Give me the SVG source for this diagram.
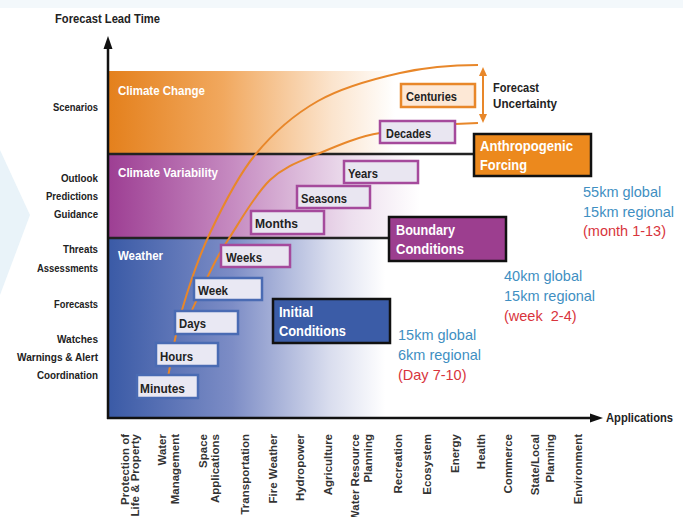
<svg xmlns="http://www.w3.org/2000/svg" width="683" height="517" viewBox="0 0 683 517">
<defs>
<style>
.n{font-family:"Liberation Sans",Arial,sans-serif;font-weight:bold}
.yl{font-size:11.5px;fill:#222;text-anchor:end}
.bl{font-size:13.5px;fill:#fff}
.bx{font-size:13.5px;fill:#222}
.big{font-size:15px;fill:#fff}
.bt{font-family:"Liberation Sans",Arial,sans-serif;font-weight:bold;font-size:11.5px;fill:#333;text-anchor:end}
.rt{font-family:"Liberation Sans",Arial,sans-serif;font-size:14.5px}
.blue{fill:#3f8fc2}
.red{fill:#d8343c}
.pb{fill:#e9e6f1;stroke:#a54a9c;stroke-width:2.5}
.wb{fill:#e9e8f3;stroke:#4a6bb3;stroke-width:2.5}
.arc{fill:none;stroke:#e8872a;stroke-width:2}
.ax{stroke:#111;stroke-width:2.5;fill:none}
</style>
<linearGradient id="gCC" gradientUnits="userSpaceOnUse" x1="108" y1="0" x2="395" y2="0">
<stop offset="0" stop-color="#e4801c"/>
<stop offset="0.4" stop-color="#f1a85e"/>
<stop offset="0.78" stop-color="#fbe4cd"/>
<stop offset="1" stop-color="#ffffff"/>
</linearGradient>
<linearGradient id="gCV" gradientUnits="userSpaceOnUse" x1="108" y1="0" x2="420" y2="0">
<stop offset="0" stop-color="#9d3e93"/>
<stop offset="0.4" stop-color="#c68bc1"/>
<stop offset="0.78" stop-color="#eddfee"/>
<stop offset="1" stop-color="#ffffff"/>
</linearGradient>
<linearGradient id="gW" gradientUnits="userSpaceOnUse" x1="108" y1="0" x2="385" y2="0">
<stop offset="0" stop-color="#3a5aa6"/>
<stop offset="0.45" stop-color="#7d8dc6"/>
<stop offset="0.8" stop-color="#d9ddee"/>
<stop offset="1" stop-color="#ffffff"/>
</linearGradient>
</defs>
<rect width="683" height="517" fill="#fff"/>
<polygon points="0,150 30,215 0,295" fill="#e9f3f9"/>
<rect x="0" y="0" width="683" height="8" fill="#f3f8fb"/>

<g id="bands">
<rect x="108" y="71" width="372" height="83" fill="url(#gCC)"/>
<rect x="108" y="154" width="372" height="84" fill="url(#gCV)"/>
<rect x="108" y="238" width="372" height="180" fill="url(#gW)"/>
<line x1="108" y1="154" x2="474" y2="154" stroke="#222" stroke-width="2.5"/>
<line x1="108" y1="238" x2="389" y2="238" stroke="#222" stroke-width="2.5"/>
<text class="n bl" x="118" y="95" textLength="87" lengthAdjust="spacingAndGlyphs">Climate Change</text>
<text class="n bl" x="118" y="177" textLength="100" lengthAdjust="spacingAndGlyphs">Climate Variability</text>
<text class="n bl" x="118" y="260" textLength="45" lengthAdjust="spacingAndGlyphs">Weather</text>
</g>

<g id="connectors">
<path class="arc" d="M168,377 C170.3,365.8 175,334 182,310 C189,286 197.8,258.8 210,233 C222.2,207.2 237,177 255,155 C273,133 293.8,114.7 318,101 C342.2,87.3 373.3,79 400,73 C426.7,67 455,65 478,65"/>
<path class="arc" d="M192,310 C195.3,303 206,279.7 212,268 C218,256.3 218.3,254.7 228,240 C237.7,225.3 254.7,194.5 270,180 C285.3,165.5 301.7,160.8 320,153 C338.3,145.2 360,136 380,133 L455,124 L478,123"/>
<line x1="483" y1="74" x2="483" y2="116" stroke="#e8872a" stroke-width="2"/>
<polygon points="483,67 479,76 487,76" fill="#e8872a"/>
<polygon points="483,123 479,114 487,114" fill="#e8872a"/>
</g>

<g id="axes">
<line class="ax" x1="108" y1="419" x2="108" y2="46"/>
<polygon points="108,36 103.5,49 112.5,49" fill="#111"/>
<line class="ax" x1="107" y1="418" x2="592" y2="418"/>
<polygon points="603,418 590,413.5 590,422.5" fill="#111"/>
<text class="n" x="55" y="23" font-size="13px" fill="#222" textLength="105" lengthAdjust="spacingAndGlyphs">Forecast Lead Time</text>
<text class="n" x="606" y="422" font-size="13px" fill="#222" textLength="67" lengthAdjust="spacingAndGlyphs">Applications</text>
</g>

<g id="ylabels" class="n yl">
<text x="98" y="111" textLength="45" lengthAdjust="spacingAndGlyphs">Scenarios</text>
<text x="98" y="182" textLength="37" lengthAdjust="spacingAndGlyphs">Outlook</text>
<text x="98" y="200" textLength="52" lengthAdjust="spacingAndGlyphs">Predictions</text>
<text x="98" y="218" textLength="44" lengthAdjust="spacingAndGlyphs">Guidance</text>
<text x="98" y="253" textLength="35" lengthAdjust="spacingAndGlyphs">Threats</text>
<text x="98" y="272" textLength="61" lengthAdjust="spacingAndGlyphs">Assessments</text>
<text x="98" y="308" textLength="44" lengthAdjust="spacingAndGlyphs">Forecasts</text>
<text x="98" y="343" textLength="41" lengthAdjust="spacingAndGlyphs">Watches</text>
<text x="98" y="361" textLength="81" lengthAdjust="spacingAndGlyphs">Warnings &amp; Alert</text>
<text x="98" y="379" textLength="61" lengthAdjust="spacingAndGlyphs">Coordination</text>
</g>

<g id="centuries"><rect x="401" y="84" width="74" height="23" fill="#fde8d6" stroke="#e8872a" stroke-width="2.5"/><text class="n bx" x="406" y="101" textLength="51" lengthAdjust="spacingAndGlyphs">Centuries</text></g>
<g id="decades"><rect class="pb" x="380" y="121" width="75" height="22"/><text class="n bx" x="386" y="138" textLength="45" lengthAdjust="spacingAndGlyphs">Decades</text></g>
<g id="years"><rect class="pb" x="344" y="161" width="74" height="22"/><text class="n bx" x="348" y="178" textLength="30" lengthAdjust="spacingAndGlyphs">Years</text></g>
<g id="seasons"><rect class="pb" x="297" y="186" width="73" height="22"/><text class="n bx" x="301" y="203" textLength="46" lengthAdjust="spacingAndGlyphs">Seasons</text></g>
<g id="months"><rect class="pb" x="251" y="211" width="73" height="23"/><text class="n bx" x="255" y="228" textLength="43" lengthAdjust="spacingAndGlyphs">Months</text></g>
<g id="weeks"><rect class="pb" x="221" y="245" width="69" height="22"/><text class="n bx" x="226" y="262" textLength="36" lengthAdjust="spacingAndGlyphs">Weeks</text></g>
<g id="week"><rect class="wb" x="194" y="278" width="68" height="22"/><text class="n bx" x="198" y="295" textLength="30" lengthAdjust="spacingAndGlyphs">Week</text></g>
<g id="days"><rect class="wb" x="175" y="311" width="63" height="23"/><text class="n bx" x="179" y="328" textLength="27" lengthAdjust="spacingAndGlyphs">Days</text></g>
<g id="hours"><rect class="wb" x="156" y="343" width="62" height="23"/><text class="n bx" x="160" y="361" textLength="33" lengthAdjust="spacingAndGlyphs">Hours</text></g>
<g id="minutes"><rect class="wb" x="137" y="375" width="61" height="23"/><text class="n bx" x="140" y="393" textLength="45" lengthAdjust="spacingAndGlyphs">Minutes</text></g>

<g id="anthropogenic"><rect x="474" y="134" width="117" height="42" fill="#ec891d" stroke="#111" stroke-width="2.5"/><text class="n big" x="480" y="151" textLength="93" lengthAdjust="spacingAndGlyphs">Anthropogenic</text><text class="n big" x="480" y="170" textLength="47" lengthAdjust="spacingAndGlyphs">Forcing</text></g>
<g id="boundary"><rect x="389" y="217" width="117" height="44" fill="#9c3e8f" stroke="#111" stroke-width="2.5"/><text class="n big" x="396" y="235" textLength="59" lengthAdjust="spacingAndGlyphs">Boundary</text><text class="n big" x="396" y="254" textLength="68" lengthAdjust="spacingAndGlyphs">Conditions</text></g>
<g id="initial"><rect x="273" y="299" width="117" height="44" fill="#3b5ca7" stroke="#111" stroke-width="2.5"/><text class="n big" x="279" y="317" textLength="34" lengthAdjust="spacingAndGlyphs">Initial</text><text class="n big" x="279" y="336" textLength="67" lengthAdjust="spacingAndGlyphs">Conditions</text></g>

<g id="uncertainty" class="n" font-size="13px" fill="#222"><text x="493" y="92" textLength="46" lengthAdjust="spacingAndGlyphs">Forecast</text><text x="493" y="108" textLength="64" lengthAdjust="spacingAndGlyphs">Uncertainty</text></g>

<g id="res1" class="rt"><text class="blue" x="583" y="197">55km global</text><text class="blue" x="583" y="217">15km regional</text><text class="red" x="583" y="236">(month 1-13)</text></g>
<g id="res2" class="rt"><text class="blue" x="504" y="281">40km global</text><text class="blue" x="504" y="301">15km regional</text><text class="red" x="504" y="321" xml:space="preserve">(week  2-4)</text></g>
<g id="res3" class="rt"><text class="blue" x="398" y="340">15km global</text><text class="blue" x="398" y="360">6km regional</text><text class="red" x="398" y="380">(Day 7-10)</text></g>

<g id="applications" class="bt">
<text transform="translate(129,434) rotate(-90)">Protection of</text>
<text transform="translate(139,434) rotate(-90)">Life &amp; Property</text>
<text transform="translate(166,434) rotate(-90)">Water</text>
<text transform="translate(179,434) rotate(-90)">Management</text>
<text transform="translate(207,434) rotate(-90)">Space</text>
<text transform="translate(219,434) rotate(-90)">Applications</text>
<text transform="translate(249,434) rotate(-90)">Transportation</text>
<text transform="translate(277,434) rotate(-90)">Fire Weather</text>
<text transform="translate(304,434) rotate(-90)">Hydropower</text>
<text transform="translate(332,434) rotate(-90)">Agriculture</text>
<text transform="translate(359,434) rotate(-90)">Water Resource</text>
<text transform="translate(372,434) rotate(-90)">Planning</text>
<text transform="translate(402,434) rotate(-90)">Recreation</text>
<text transform="translate(431,434) rotate(-90)">Ecosystem</text>
<text transform="translate(459,434) rotate(-90)">Energy</text>
<text transform="translate(485,434) rotate(-90)">Health</text>
<text transform="translate(512,434) rotate(-90)">Commerce</text>
<text transform="translate(539,434) rotate(-90)">State/Local</text>
<text transform="translate(554,434) rotate(-90)">Planning</text>
<text transform="translate(582,434) rotate(-90)">Environment</text>
</g>
</svg>
